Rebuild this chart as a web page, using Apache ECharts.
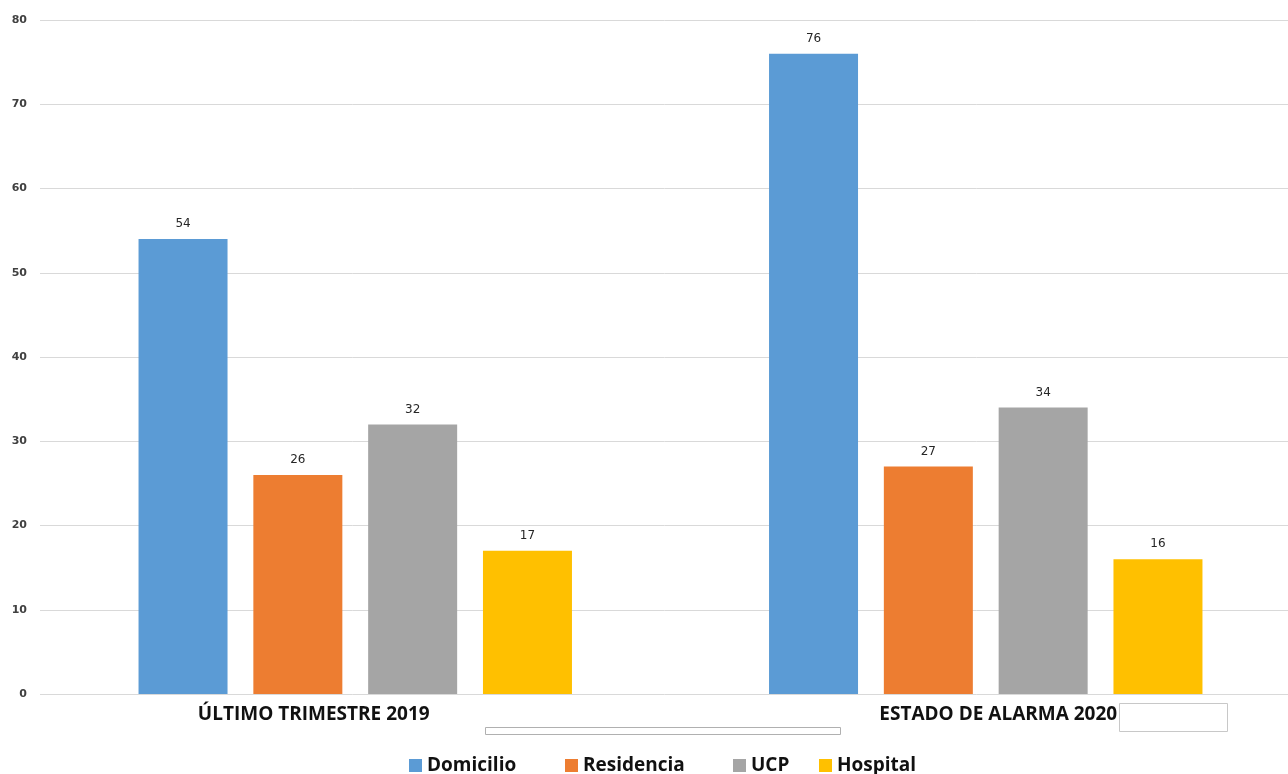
<!DOCTYPE html>
<html>
<head>
<meta charset="utf-8">
<script src="https://cdn.jsdelivr.net/npm/echarts@6/dist/echarts.min.js"></script>
<style>
  html, body { margin: 0; padding: 0; background: #fff; }
  #chart { width: 1288px; height: 774px; }
</style>
</head>
<body>
<div id="chart"></div>
<script>
(() => {
    const CATEGORIES = ['ÚLTIMO TRIMESTRE 2019', 'ESTADO DE ALARMA 2020'];
    const SERIES_NAMES = ['Domicilio', 'Residencia', 'UCP', 'Hospital'];
    const DOMICILIO = [54, 76];
    const RESIDENCIA = [26, 27];
    const UCP = [32, 34];
    const HOSPITAL = [17, 16];
    const COLORS = ['#5b9bd5', '#ed7d31', '#a5a5a5', '#ffc000'];
    const LEGEND_LEFT = [409, 565, 733, 819];

    const values = [DOMICILIO, RESIDENCIA, UCP, HOSPITAL];
    const FONT = 'Open Sans';

    let el = document.getElementById('chart');
    let myChart = echarts.init(el);

    // one legend per item so the uneven spacing can be kept
    let legends = SERIES_NAMES.map((name, i) => ({
        data: [name],
        left: LEGEND_LEFT[i],
        top: 756,
        padding: 0,
        itemWidth: 13,
        itemHeight: 13,
        itemGap: 0,
        icon: 'rect',
        selectedMode: false,
        textStyle: {
            fontFamily: FONT,
            fontWeight: 'bold',
            fontSize: 19,
            color: '#111'
        }
    }));

    let option = {
        animation: false,
        backgroundColor: '#fff',
        legend: legends,
        // plot area runs past the right edge, as in the cropped original
        grid: {left: 40, right: -13, top: 20, bottom: 80, outerBoundsMode: 'none'},
        xAxis: {
            type: 'category',
            data: CATEGORIES,
            axisLine: {show: false},
            axisTick: {show: false},
            axisLabel: {
                margin: 11,
                formatter: (v, i) => i === 0 ? '{a|' + v + '}' : '{b|' + v + '}',
                rich: {
                    a: {fontFamily: FONT, fontWeight: 'bold', fontSize: 19, color: '#111', padding: [0, 83, 0, 0]},
                    b: {fontFamily: FONT, fontWeight: 'bold', fontSize: 19, color: '#111', padding: [0, 0, 0, 25]}
                }
            }
        },
        yAxis: {
            type: 'value',
            min: 0,
            max: 80,
            interval: 10,
            axisLine: {show: false},
            axisTick: {show: false},
            axisLabel: {
                margin: 13,
                fontFamily: 'DejaVu Sans',
                fontWeight: 'bold',
                fontSize: 11,
                color: '#404040'
            },
            splitLine: {lineStyle: {color: '#d9d9d9', width: 1}}
        },
        series: SERIES_NAMES.map((name, i) => ({
            name: name,
            type: 'bar',
            data: values[i],
            barWidth: 89,
            barGap: '29%',
            itemStyle: {color: COLORS[i]},
            label: {
                show: true,
                position: 'top',
                distance: 9,
                fontFamily: 'DejaVu Sans',
                fontSize: 12,
                color: '#262626'
            }
        })),
        graphic: [
            {type: 'rect', shape: {x: 485.5, y: 727.5, width: 355, height: 7},
             style: {fill: '#fff', stroke: '#b0b0b0', lineWidth: 1}},
            {type: 'rect', shape: {x: 1119.5, y: 703.5, width: 108, height: 28},
             style: {fill: '#fff', stroke: '#c8c8c8', lineWidth: 1}}
        ]
    };
    myChart.setOption(option);
})();
</script>
</body>
</html>
